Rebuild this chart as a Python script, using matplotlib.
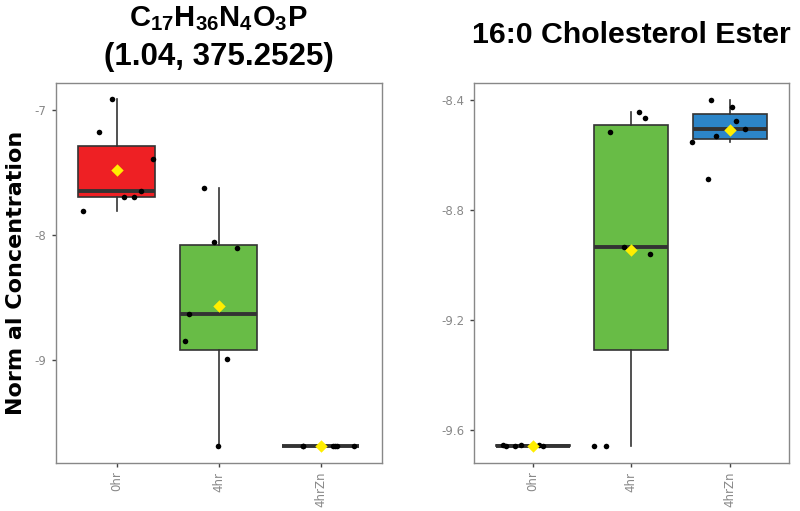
import matplotlib
matplotlib.use("Agg")
import matplotlib.pyplot as plt

# GLOBALS
GROUPS = ["0hr", "4hr", "4hrZn"]
BOX_COLORS = ["#EE2024", "#68BC46", "#2C85C8"]

# left panel: C17H36N4O3P
LEFT_VALUES = [
    [-6.915, -7.18, -7.39, -7.653, -7.699, -7.699, -7.813],
    [-7.624, -8.059, -8.109, -8.635, -8.853, -8.995, -9.693],
    [-9.693, -9.693, -9.693, -9.693, -9.693, -9.693, -9.693],
]
LEFT_MEANS = [-7.48, -8.568, -9.693]
LEFT_JITTER = [
    [-0.05, -0.17, 0.36, 0.24, 0.07, 0.17, -0.33],
    [-0.14, -0.05, 0.18, -0.29, -0.33, 0.08, -0.01],
    [-0.17, 0.12, 0.16, 0.33, 0.0, 0.14, -0.17],
]
LEFT_TICKS = [-7, -8, -9]

# right panel: 16:0 Cholesterol Ester
RIGHT_VALUES = [
    [-9.655, -9.658, -9.657, -9.656, -9.657, -9.655, -9.658],
    [-8.442, -8.465, -8.516, -8.935, -8.961, -9.657, -9.657],
    [-8.4, -8.425, -8.475, -8.505, -8.531, -8.553, -8.687],
]
RIGHT_MEANS = [-9.657, -8.947, -8.51]
RIGHT_JITTER = [
    [-0.30, -0.27, -0.18, -0.12, 0.0, 0.06, 0.10],
    [0.08, 0.14, -0.22, -0.07, 0.19, -0.38, -0.26],
    [-0.19, 0.02, 0.06, 0.15, -0.14, -0.38, -0.22],
]
RIGHT_TICKS = [-8.4, -8.8, -9.2, -9.6]

W, H = 800, 511

plt.rcParams["mathtext.fontset"] = "custom"
plt.rcParams["mathtext.rm"] = "Liberation Sans:bold"
plt.rcParams["mathtext.it"] = "Liberation Sans:bold"
plt.rcParams["mathtext.bf"] = "Liberation Sans:bold"


def px_axes(fig, x0, x1, y0, y1):
    return fig.add_axes([x0 / W, 1 - y1 / H, (x1 - x0) / W, (y1 - y0) / H])


def draw_panel(ax, values, means, jitter, ticks, ylim):
    pos = list(range(1, len(GROUPS) + 1))
    bp = ax.boxplot(values, positions=pos, widths=0.75, patch_artist=True, showfliers=False,
                    showcaps=False, whis=1.5,
                    boxprops=dict(edgecolor="#333333", linewidth=1.2),
                    whiskerprops=dict(color="#333333", linewidth=1.2),
                    medianprops=dict(color="#333333", linewidth=2.8, solid_capstyle="butt"))
    for patch, c in zip(bp["boxes"], BOX_COLORS):
        patch.set_facecolor(c)

    for i, (vals, offs) in enumerate(zip(values, jitter)):
        xs = [pos[i] + o for o in offs]
        ax.scatter(xs, vals, s=16, color="black", zorder=4, linewidths=0)
    ax.scatter(pos, means, marker="D", s=40, color="#FFEE00", zorder=5, linewidths=0)

    ax.set_xlim(0.4, 3.6)
    ax.set_ylim(*ylim)
    ax.set_yticks(ticks)
    ax.set_yticklabels([("%g" % t) for t in ticks])
    ax.set_xticks(pos)
    ax.set_xticklabels(GROUPS, rotation=90)
    ax.tick_params(labelsize=8.5, length=3, width=1, colors="#444444", labelcolor="#888888")
    for s in ax.spines.values():
        s.set_color("#888888")
        s.set_linewidth(1)


fig = plt.figure(figsize=(W / 100, H / 100), dpi=100)

ax1 = px_axes(fig, 55.5, 381.7, 83, 462.5)
draw_panel(ax1, LEFT_VALUES, LEFT_MEANS, LEFT_JITTER, LEFT_TICKS, (-9.824, -6.784))
ax1.set_ylabel("Norm al Concentration", fontsize=16, fontweight="bold", family="DejaVu Sans", labelpad=6)

ax2 = px_axes(fig, 473.5, 789, 83, 462.5)
draw_panel(ax2, RIGHT_VALUES, RIGHT_MEANS, RIGHT_JITTER, RIGHT_TICKS, (-9.718, -8.338))

# titles
fig.text(218.6 / W, 1 - 26 / H, "C$_{17}$H$_{36}$N$_{4}$O$_{3}$P", fontsize=21, fontweight="bold",
         family="Liberation Sans", ha="center", va="baseline")
fig.text(218.6 / W, 1 - 65 / H, "(1.04, 375.2525)", fontsize=22.5, fontweight="bold",
         family="Liberation Sans", ha="center", va="baseline")
fig.text(631 / W, 1 - 43 / H, "16:0 Cholesterol Ester", fontsize=21.8, fontweight="bold",
         family="Liberation Sans", ha="center", va="baseline")

fig.savefig("out.png", dpi=100)
